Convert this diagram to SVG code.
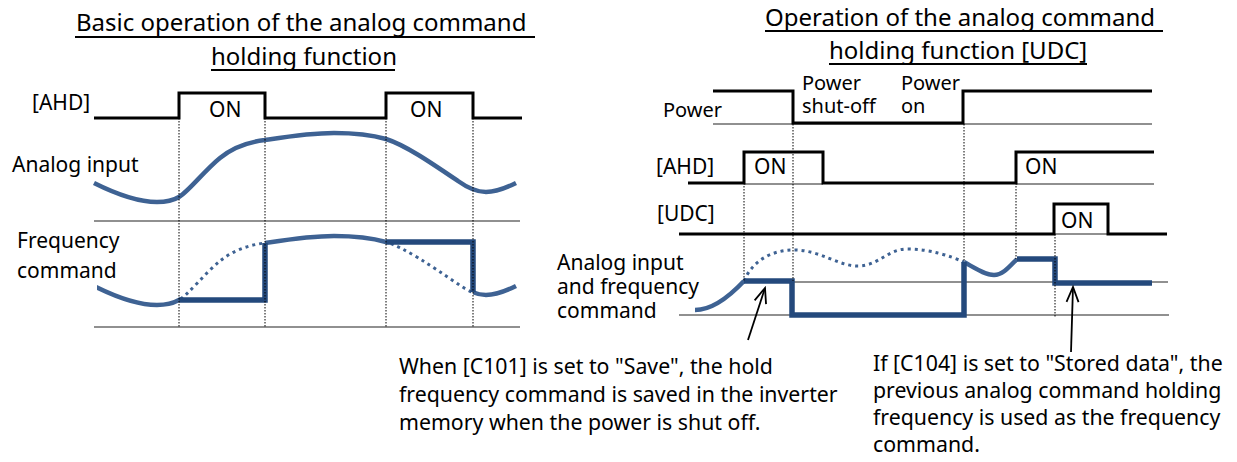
<svg xmlns="http://www.w3.org/2000/svg" xmlns:xlink="http://www.w3.org/1999/xlink" width="1237" height="462" viewBox="0 0 1237 462">
<style>
text{font-family:"Noto Sans","Liberation Sans",sans-serif;fill:#000}
.title{font-size:24px}
.lbl{font-size:21px}
.sm{font-size:20px}
.note{font-size:21.3px}
.sig{fill:none;stroke:#000;stroke-width:3}
.thin{fill:none;stroke:#222;stroke-width:1.2}
.ul{fill:none;stroke:#000;stroke-width:1.8}
.vdot{fill:none;stroke:#000;stroke-width:1;stroke-dasharray:1.5 1.5}
.curve{fill:none;stroke:#3E6293;stroke-width:4.5}
.hold{fill:none;stroke:#24497C;stroke-width:5.5}
.dots{fill:none;stroke:#3E6293;stroke-width:3;stroke-dasharray:3 4}
.arrow{fill:none;stroke:#000;stroke-width:1.8}
</style>
<defs>
<path id="wave" d="M94,183 C110,191 135,202 157,202 C167,202 174,200 179,197 C188,192 205,170 220,158 C232,148 248,142 265,140 C285,137 310,133 334,133 C355,133 372,135 386,139 C405,145 430,162 458,181 C465,186 475,192 486,192 C496,192 506,188 516,183"/>
<clipPath id="cs1" clipPathUnits="userSpaceOnUse"><rect x="97" y="0" width="82" height="462"/><rect x="265" y="0" width="121" height="462"/><rect x="473" y="0" width="60" height="462"/></clipPath>
<clipPath id="cd1" clipPathUnits="userSpaceOnUse"><rect x="179" y="0" width="86" height="462"/><rect x="386" y="0" width="87" height="462"/></clipPath>
<marker id="arr" viewBox="-18 -10 20 20" refX="0" refY="0" markerWidth="20" markerHeight="20" markerUnits="userSpaceOnUse" orient="auto"><path d="M-15,-6 L0,0 L-15,6" fill="none" stroke="#000" stroke-width="1.8"/></marker>
</defs>

<!-- Left panel -->
<g id="title-left">
<text class="title" x="76" y="31">Basic operation of the analog command</text>
<line class="ul" x1="75" y1="37" x2="535" y2="37"/>
<text class="title" x="211" y="65">holding function</text>
<line class="ul" x1="211" y1="70" x2="395" y2="70"/>
</g>
<g id="left-ahd">
<text class="lbl" x="32" y="110">[AHD]</text>
<path class="sig" d="M94,118 H179 V93 H265 V118 H386 V93 H473 V118 H522"/>
<text class="lbl" x="209" y="117">ON</text>
<text class="lbl" x="410" y="117">ON</text>
</g>
<g id="left-analog">
<text class="lbl" x="12" y="172">Analog input</text>
<use xlink:href="#wave" class="curve"/>
<line class="thin" x1="94" y1="221" x2="520" y2="221"/>
</g>
<g id="left-freq">
<text class="lbl" x="17" y="248">Frequency</text>
<text class="lbl" x="17" y="278">command</text>
<g transform="translate(0,103)">
<use xlink:href="#wave" class="curve" clip-path="url(#cs1)"/>
<use xlink:href="#wave" class="dots" clip-path="url(#cd1)"/>
</g>
<path class="hold" d="M179,300 H265 V243"/>
<path class="hold" d="M386,242 H473 V292"/>
<line class="thin" x1="94" y1="327" x2="520" y2="327"/>
</g>
<g id="left-guides">
<line class="vdot" x1="179" y1="118" x2="179" y2="327"/>
<line class="vdot" x1="265" y1="118" x2="265" y2="327"/>
<line class="vdot" x1="386" y1="118" x2="386" y2="327"/>
<line class="vdot" x1="473" y1="118" x2="473" y2="327"/>
</g>

<!-- Right panel -->
<g id="title-right">
<text class="title" x="765" y="26">Operation of the analog command</text>
<line class="ul" x1="765" y1="31" x2="1163" y2="31"/>
<text class="title" x="829" y="59">holding function [UDC]</text>
<line class="ul" x1="829" y1="64" x2="1087" y2="64"/>
</g>
<g id="right-power">
<text class="sm" x="663" y="117">Power</text>
<line class="thin" x1="713" y1="124" x2="1152" y2="124"/>
<path class="sig" d="M713,91 H793 V123 H963 V91 H1152"/>
<text class="sm" x="802" y="90">Power</text>
<text class="sm" x="802" y="113">shut-off</text>
<text class="sm" x="901" y="90">Power</text>
<text class="sm" x="901" y="113">on</text>
</g>
<g id="right-ahd">
<text class="lbl" x="656" y="174">[AHD]</text>
<line class="thin" x1="744" y1="184" x2="823" y2="184"/>
<line class="thin" x1="1016" y1="184" x2="1154" y2="184"/>
<path class="sig" d="M688,183 H744 V152 H823 V183 H1016 V152 H1154"/>
<text class="lbl" x="754" y="174">ON</text>
<text class="lbl" x="1025" y="174">ON</text>
</g>
<g id="right-udc">
<text class="lbl" x="657" y="221">[UDC]</text>
<line class="thin" x1="1054" y1="234" x2="1108" y2="234"/>
<path class="sig" d="M679,234 H1054 V204 H1108 V234 H1167"/>
<text class="lbl" x="1061" y="228">ON</text>
</g>
<g id="right-freq">
<text class="lbl" x="557" y="270">Analog input</text>
<text class="lbl" x="557" y="294">and frequency</text>
<text class="lbl" x="557" y="318">command</text>
<line class="thin" x1="744" y1="282" x2="1168" y2="282"/>
<line class="thin" x1="679" y1="315" x2="1169" y2="315"/>
<path class="dots" d="M744,281 C752,262 770,250 794,250 C820,250 838,266 858,266 C878,266 888,249 907,249 C930,249 950,256 964,262"/>
<path class="curve" d="M695,310 C712,310 728,298 744,281"/>
<path class="curve" d="M964,262 C975,268 985,275 994,275 C1003,275 1010,266 1017,259"/>
<path class="hold" d="M744,281 H792 V315 H964 V262"/>
<path class="hold" d="M1017,259 H1055 V283 H1152"/>
</g>
<g id="right-guides">
<line class="vdot" x1="744" y1="183" x2="744" y2="281"/>
<line class="vdot" x1="793" y1="124" x2="793" y2="281"/>
<line class="vdot" x1="964" y1="124" x2="964" y2="262"/>
<line class="vdot" x1="1016" y1="183" x2="1016" y2="259"/>
<line class="vdot" x1="1055" y1="234" x2="1055" y2="317"/>
</g>

<g id="note-save">
<text class="note" x="399" y="374">When [C101] is set to "Save", the hold</text>
<text class="note" x="399" y="402">frequency command is saved in the inverter</text>
<text class="note" x="399" y="430">memory when the power is shut off.</text>
</g>
<g id="note-stored">
<text class="note" x="873" y="371">If [C104] is set to "Stored data", the</text>
<text class="note" x="873" y="398">previous analog command holding</text>
<text class="note" x="873" y="425">frequency is used as the frequency</text>
<text class="note" x="873" y="452">command.</text>
</g>
<g id="connectors">
<line class="arrow" x1="748" y1="340" x2="765" y2="288" marker-end="url(#arr)"/>
<line class="arrow" x1="1071" y1="352" x2="1073" y2="287" marker-end="url(#arr)"/>
</g>
</svg>
